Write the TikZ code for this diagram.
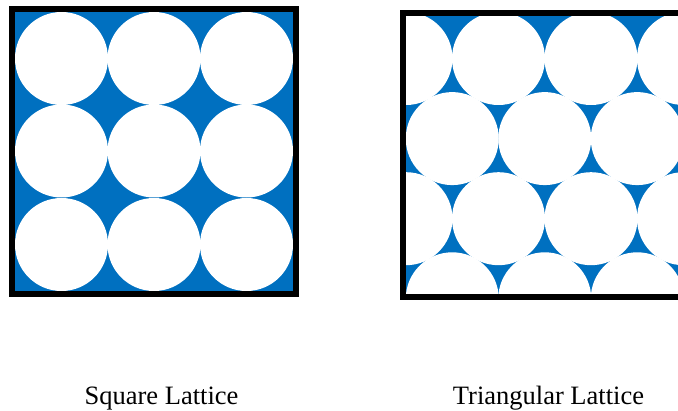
\documentclass[tikz,border=0pt]{standalone}
\usepackage{fontspec}
\setmainfont{Liberation Serif}
\definecolor{latblue}{RGB}{0,112,192}
\begin{document}
\begin{tikzpicture}[x=1pt,y=-1pt,
  frame/.style={draw=black,line width=6pt},
  ball/.style={fill=white},
  caption/.style={font=\fontsize{26.5}{30}\selectfont,anchor=base,inner sep=0pt}]
\useasboundingbox (0,0) rectangle (678,411);
\begin{scope}
\clip (0,0) rectangle (678,411);
% square lattice
\fill[latblue] (12,9) rectangle (296,294);
\foreach \x in {61.5,154,246.5}
  \foreach \y in {58.5,151,244.5}
    \fill[ball] (\x,\y) circle[radius=46.5];
\draw[frame] (12,9) rectangle (296,294);
% triangular lattice
\begin{scope}
\clip (403,13.5) rectangle (687,297);
\fill[latblue] (403,13.5) rectangle (687,297);
\foreach \y in {58.5,218.7}
  \foreach \x in {406,498.5,591,683.5}
    \fill[ball] (\x,\y) circle[radius=46.5];
\foreach \y in {138.6,298.8}
  \foreach \x in {359.75,452.25,544.75,637.25,729.75}
    \fill[ball] (\x,\y) circle[radius=46.5];
\end{scope}
\draw[frame] (403,13.5) rectangle (687,297);
\end{scope}
\node[caption] (sq) at (161.5,405) {Square Lattice};
\node[caption] (tri) at (548.5,405) {Triangular Lattice};
\end{tikzpicture}
\end{document}
